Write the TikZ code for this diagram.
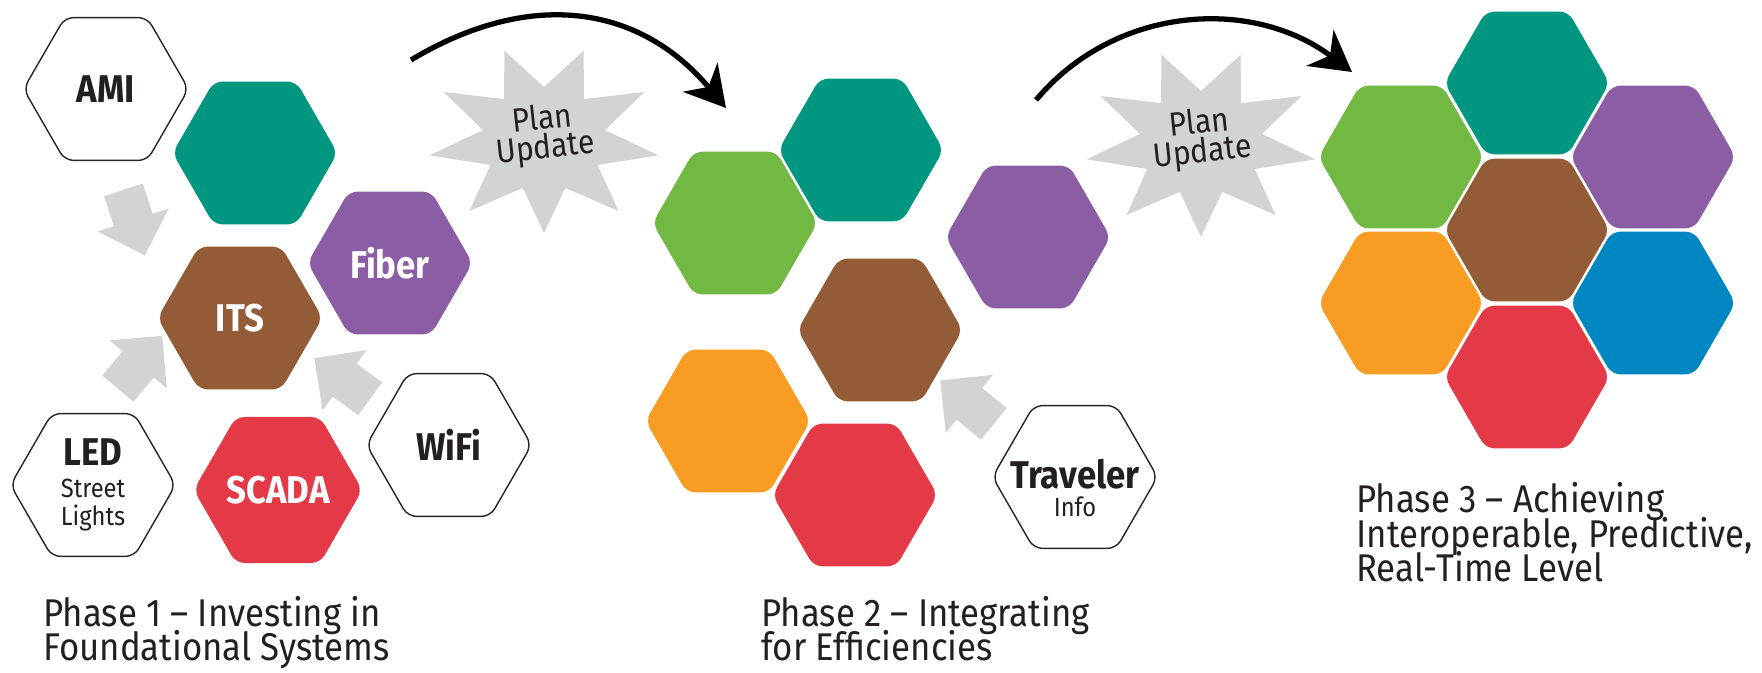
\documentclass[tikz,border=0pt]{standalone}
\usepackage{fontspec}
\setmainfont[FakeStretch=0.9]{Fira Sans}
\usetikzlibrary{arrows.meta,shapes.geometric,shapes.arrows}
\definecolor{hexteal}{HTML}{00967F}
\definecolor{hexgreen}{HTML}{72B944}
\definecolor{hexpurple}{HTML}{8A5DA4}
\definecolor{hexbrown}{HTML}{935B36}
\definecolor{hexorange}{HTML}{F89C24}
\definecolor{hexred}{HTML}{E43A48}
\definecolor{hexblue}{HTML}{0087C1}
\definecolor{burstgray}{HTML}{D1D3D4}
\definecolor{inkdark}{HTML}{231F20}
\newcommand\lbltiny{\mdseries\fontsize{15}{16}\selectfont}
\newcommand\phasefont{\fontsize{22}{19.8}\selectfont\lineskiplimit=-10pt\relax}
\newcommand\burstfont{\fontsize{19}{16.5}\selectfont\lineskiplimit=-10pt\relax}

\begin{document}
\begin{tikzpicture}[x=0.02cm,y=0.02cm,
  hex/.style={regular polygon,regular polygon sides=6,minimum size=3.3cm,inner sep=0pt,
    rounded corners=5pt,font=\fontsize{22}{26}\selectfont\bfseries},
  hexfill/.style={hex,fill=#1,text=white},
  hexline/.style={hex,draw=black!85,line width=0.8pt,fill=white,text=inkdark},
  feedarrow/.style={single arrow,fill=burstgray,minimum height=1.38cm,inner xsep=0pt,
    inner ysep=0.4cm,single arrow head extend=0.34cm,rotate=#1},
  bursttext/.style={align=center,rotate=6,inner sep=0pt,text=inkdark,font=\burstfont},
  phasetext/.style={anchor=base west,align=left,inner sep=0pt,text=inkdark,font=\phasefont},
  phasearrow/.style={line width=3pt,-{Stealth[length=8mm,width=9mm,inset=2.5mm]}}]
  \useasboundingbox (0,0) rectangle (1762,673);

  \foreach \nm/\cx/\cy in {burstA/544/534, burstB/1201/530} {
    \fill[burstgray,shift={(\cx,\cy)}] plot[samples at={0,...,17},variable=\k]
      ({ifthenelse(mod(\k,2)==0,116,62)*cos(-90+20*\k)},
       {ifthenelse(mod(\k,2)==0,94,52)*sin(-90+20*\k)}) -- cycle;
    \node[bursttext] (\nm) at (\cx,\cy+4) {Plan\\Update};
  }

  \foreach \nm/\cx/\cy/\ang in {feedA/131/460/-72, feedB/133.5/303/50,
    feedC/350.5/288.5/144, feedD/975/264.5/141} {
    \node[feedarrow=\ang] (\nm) at (\cx,\cy) {};
  }

  \node[hexline] (ami) at (106,584) {AMI};
  \node[hexfill=hexteal] (tealA) at (255,520) {};
  \node[hexfill=hexbrown] (its) at (240,355) {ITS};
  \node[hexfill=hexpurple] (fiber) at (390,410) {Fiber};
  \node[hexline,align=center,font=\lbltiny] (led) at (93,188)
    {{\bfseries\fontsize{22}{26}\selectfont LED}\\[2pt]Street\\Lights};
  \node[hexfill=hexred] (scada) at (278,183) {SCADA};
  \node[hexline] (wifi) at (449,228) {WiFi};

  \foreach \nm/\cx/\cy/\col in {greenB/735/450/hexgreen, tealB/861/523/hexteal,
    purpleB/1028/436/hexpurple, brownB/880/343/hexbrown,
    orangeB/728/252/hexorange, redB/855/178/hexred} {
    \node[hexfill=\col] (\nm) at (\cx,\cy) {};
  }
  \node[hexline] (traveler) at (1075,196) {};
  \node[align=center,inner sep=0pt,text=inkdark,font=\lbltiny] (travelerlbl) at (1075,185)
    {{\bfseries\fontsize{22}{26}\selectfont Traveler}\\Info};

  \foreach \nm/\cx/\cy/\col in {tealC/1527/590/hexteal, greenC/1401/516/hexgreen,
    purpleC/1653/516/hexpurple, brownC/1527/443/hexbrown, orangeC/1401/370/hexorange,
    blueC/1653/370/hexblue, redC/1527/296/hexred} {
    \node[hexfill=\col] (\nm) at (\cx,\cy) {};
  }

  \coordinate (leapAfrom) at (411,613);
  \coordinate (leapAto) at (726,565);
  \draw[phasearrow] (leapAfrom) to[out=31,in=130,looseness=1.1] (leapAto);
  \coordinate (leapBfrom) at (1036,573);
  \coordinate (leapBto) at (1352,601);
  \draw[phasearrow] (leapBfrom) to[out=50,in=143] (leapBto);

  \node[phasetext] (phaseA) at (43,12) {Phase 1 -- Investing in\\Foundational Systems};
  \node[phasetext] (phaseB) at (761,12) {Phase 2 -- Integrating\\for Efficiencies};
  \node[phasetext] (phaseC) at (1356,91)
    {Phase 3 -- Achieving\\Interoperable, Predictive,\\Real-Time Level};
\end{tikzpicture}
\end{document}
